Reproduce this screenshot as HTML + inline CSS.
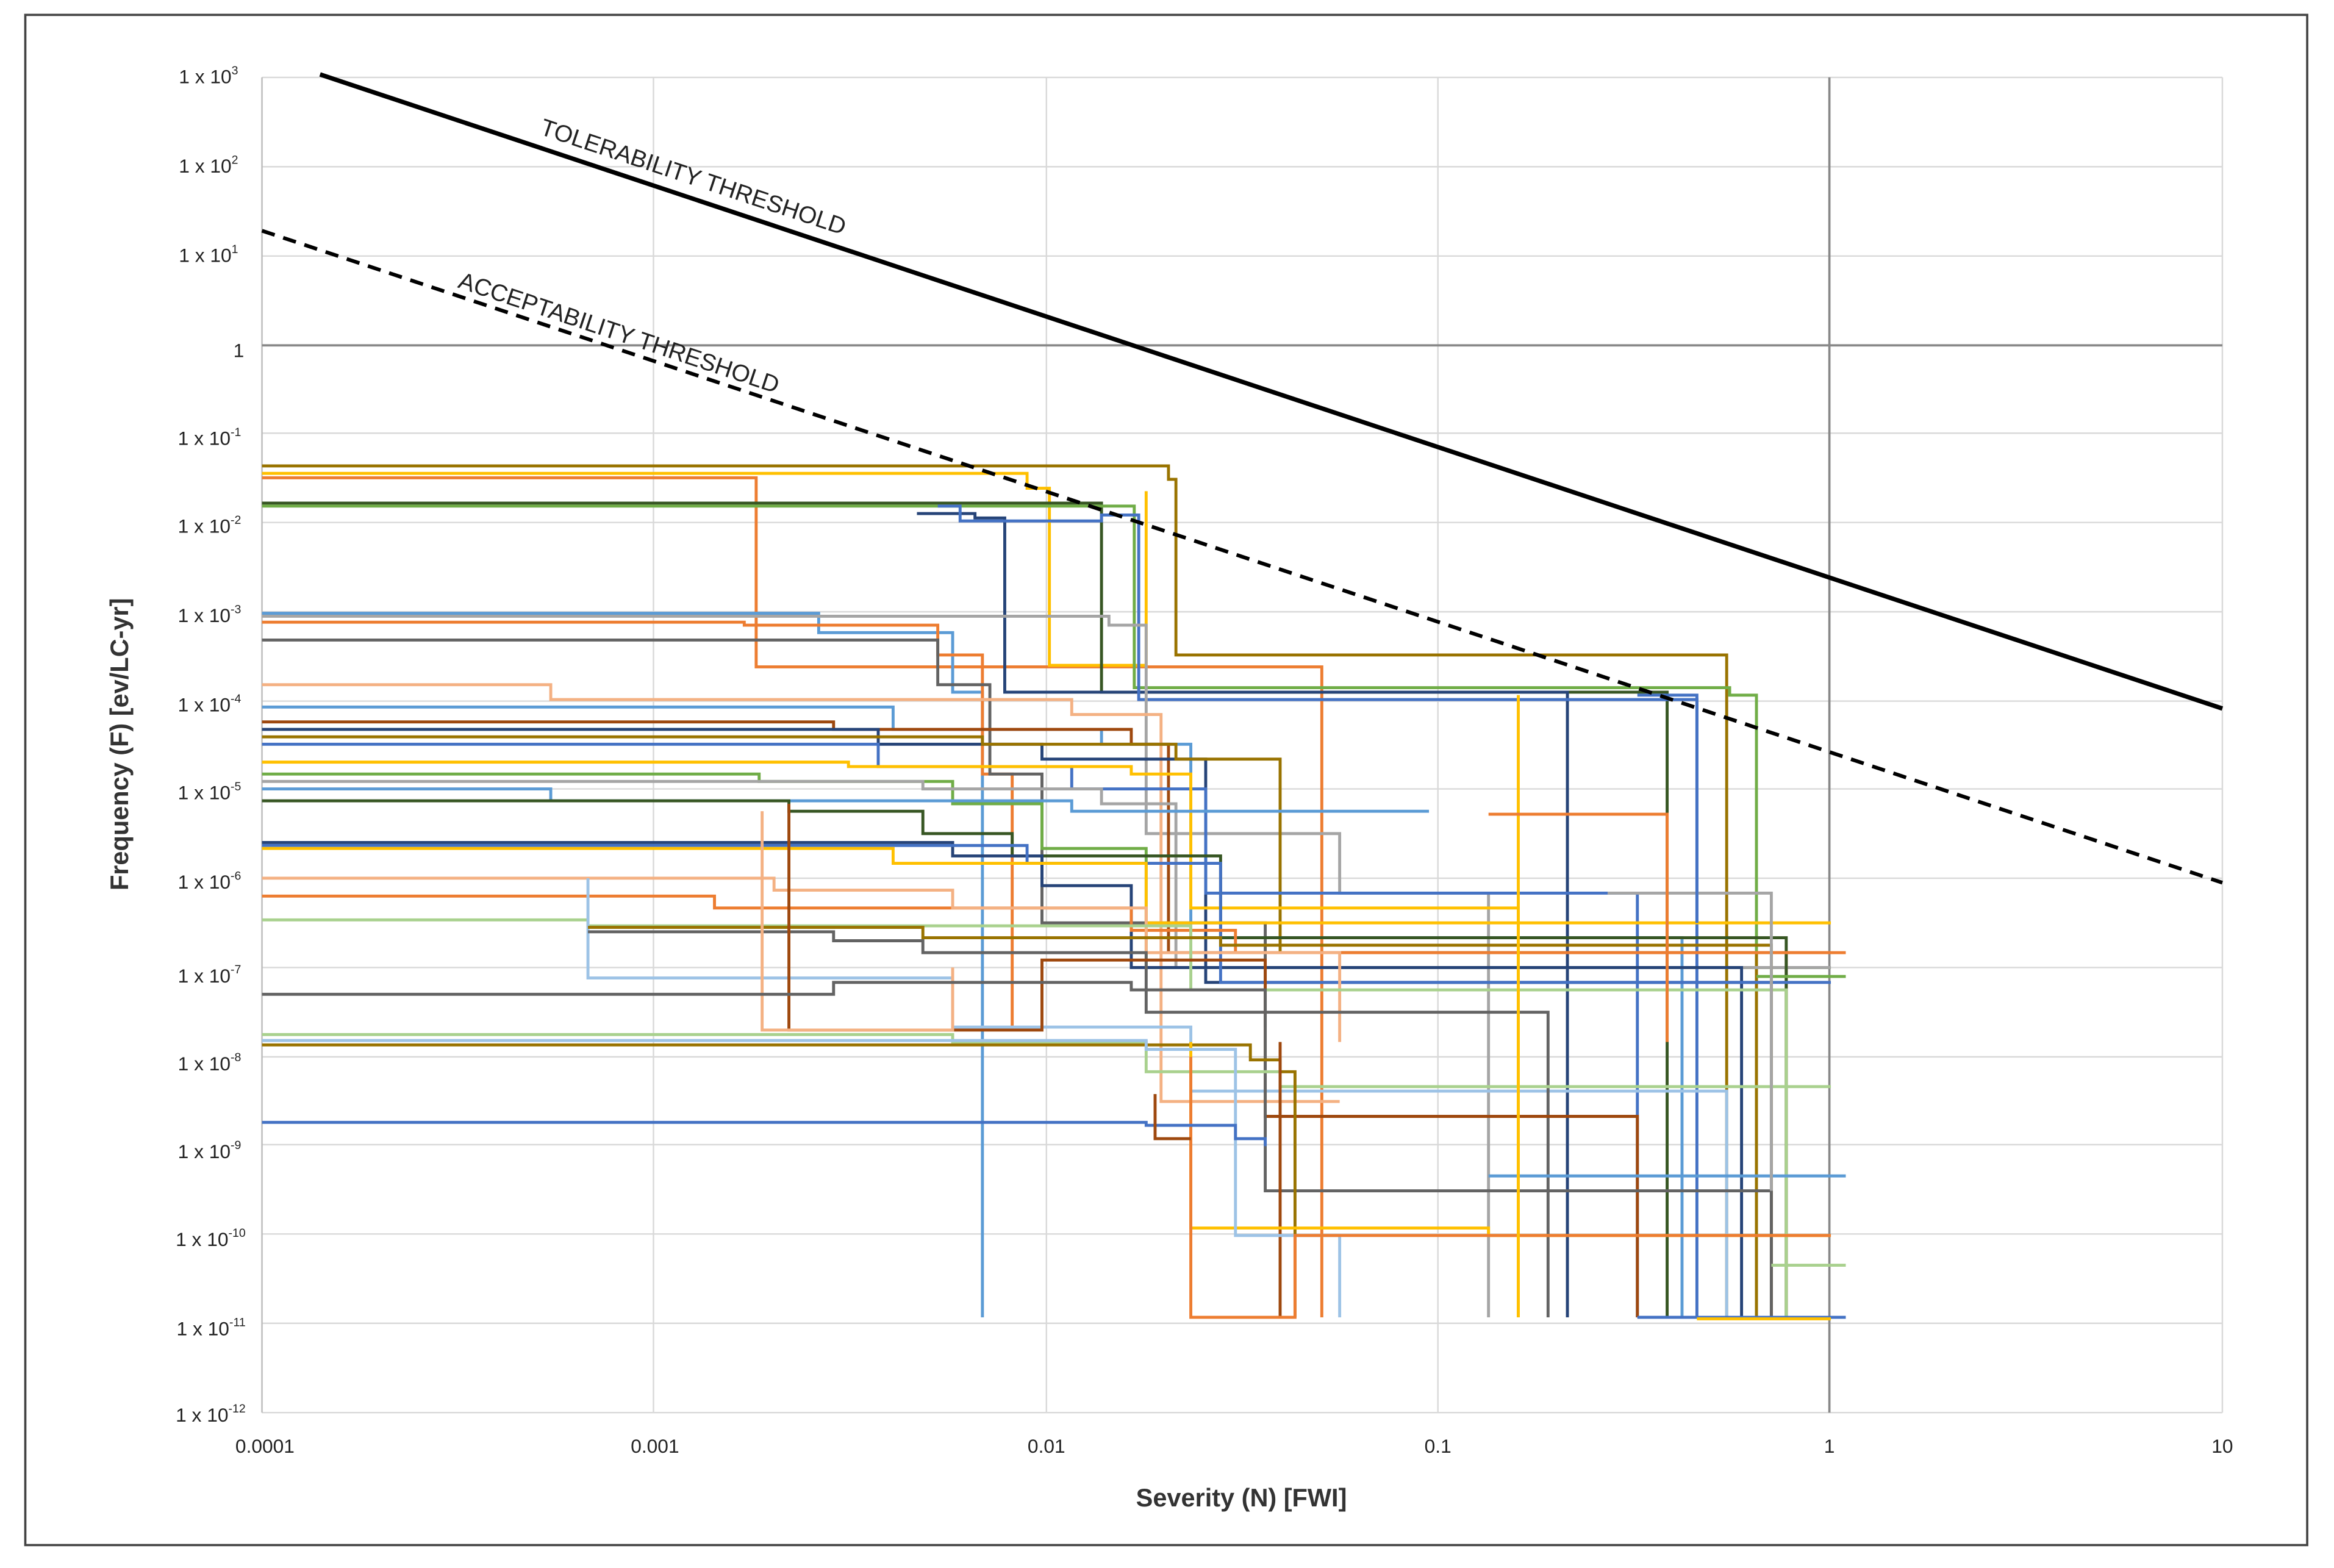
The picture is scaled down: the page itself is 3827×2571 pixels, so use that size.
<!DOCTYPE html>
<html><head><style>html,body{margin:0;padding:0;background:#fff}svg{display:block}</style></head><body>
<svg width="3827" height="2571" viewBox="0 0 1568 1053.4" preserveAspectRatio="none" xmlns="http://www.w3.org/2000/svg" font-family="Liberation Sans, sans-serif">
<rect x="0" y="0" width="1568" height="1054" fill="#fff"/>
<rect x="17" y="10" width="1533" height="1028" fill="none" stroke="#444" stroke-width="1.5"/>
<g stroke="#d9d9d9" stroke-width="1">
<line x1="439" y1="52" x2="439" y2="949"/><line x1="703" y1="52" x2="703" y2="949"/><line x1="966" y1="52" x2="966" y2="949"/><line x1="1493" y1="52" x2="1493" y2="949"/>
<line x1="176" y1="52" x2="1493" y2="52"/><line x1="176" y1="112" x2="1493" y2="112"/><line x1="176" y1="172" x2="1493" y2="172"/>
<line x1="176" y1="291" x2="1493" y2="291"/><line x1="176" y1="351" x2="1493" y2="351"/><line x1="176" y1="411" x2="1493" y2="411"/><line x1="176" y1="471" x2="1493" y2="471"/><line x1="176" y1="530" x2="1493" y2="530"/><line x1="176" y1="590" x2="1493" y2="590"/><line x1="176" y1="650" x2="1493" y2="650"/><line x1="176" y1="710" x2="1493" y2="710"/><line x1="176" y1="769" x2="1493" y2="769"/><line x1="176" y1="829" x2="1493" y2="829"/><line x1="176" y1="889" x2="1493" y2="889"/><line x1="176" y1="949" x2="1493" y2="949"/>
</g>
<line x1="176" y1="52" x2="176" y2="949" stroke="#bbb"/>
<line x1="176" y1="232" x2="1493" y2="232" stroke="#888" stroke-width="1.5"/>
<line x1="1229" y1="52" x2="1229" y2="949" stroke="#888" stroke-width="1.5"/>
<g fill="none" stroke-width="2">
<path stroke="#997300" d="M176 313H785V322H790V440H1160V485V885"/>
<path stroke="#ED7D31" d="M176 321H508V448H888V885"/>
<path stroke="#FFC000" d="M176 318H690V328H705V447H770V330"/>
<path stroke="#375623" d="M176 338H740V465H1120V885"/>
<path stroke="#70AD47" d="M176 340H762V462H1162V467H1180V885"/>
<path stroke="#264478" d="M616 345H655V348H675V465H1053V885"/>
<path stroke="#4472C4" d="M630 340H645V350H740V346H765V470H1140V885"/>
<path stroke="#5B9BD5" d="M176 412H550V425H640V465H660V885"/>
<path stroke="#ED7D31" d="M176 418H500V420H630V440H660V520H680V690"/>
<path stroke="#636363" d="M176 430H630V460H665V520H700V620H850V690"/>
<path stroke="#A5A5A5" d="M176 414H745V420H770V560H900V600H1000V885"/>
<path stroke="#F4B183" d="M176 460H370V470H720V480H780V740H900"/>
<path stroke="#5B9BD5" d="M176 475H600V490H740V500H800V630H1130V885"/>
<path stroke="#9E480E" d="M176 485H560V490H760V500H785V640H1200V885"/>
<path stroke="#264478" d="M176 490H590V500H700V510H810V660H1190V885"/>
<path stroke="#997300" d="M176 495H660V500H790V510H860V640H1180V885"/>
<path stroke="#4472C4" d="M176 500H590V515H720V530H810V600H1100V885"/>
<path stroke="#FFC000" d="M176 512H570V515H760V520H800V610H1020V885"/>
<path stroke="#70AD47" d="M176 520H510V525H640V540H700V570H770V650H1230"/>
<path stroke="#A5A5A5" d="M176 525H620V530H740V540H790V650H1230"/>
<path stroke="#5B9BD5" d="M176 530H370V538H720V545H960"/>
<path stroke="#375623" d="M176 538H530V545H620V560H680V575H820V630H1200V885"/>
<path stroke="#264478" d="M176 566H640V575H700V595H760V650H1170V885"/>
<path stroke="#4472C4" d="M176 568H690V580H820V660H1230"/>
<path stroke="#FFC000" d="M176 570H600V580H770V620H1230"/>
<path stroke="#ED7D31" d="M176 602H480V610H760V625H830V640H1230"/>
<path stroke="#F4B183" d="M176 590H520V598H640V610H770V640H900V700"/>
<path stroke="#A9D18E" d="M176 618H395V622H800V665H1200V885"/>
<path stroke="#9DC3E6" d="M395 590V657H640V690H800V733H1160V885"/>
<path stroke="#636363" d="M395 626H560V632H620V640H770V680H1040V885"/>
<path stroke="#997300" d="M395 623H620V630H820V635H1190V885"/>
<path stroke="#9E480E" d="M530 540V692H700V645H850V750H1100V885"/>
<path stroke="#F4B183" d="M512 545V692H640V650"/>
<path stroke="#636363" d="M176 668H560V660H760V665H850V800H1190V885"/>
<path stroke="#A9D18E" d="M176 695H640V700H770V720H860V730H1230"/>
<path stroke="#997300" d="M176 702H840V712H860V720H870V885"/>
<path stroke="#9E480E" d="M860 700V885"/>
<path stroke="#FFC000" d="M800 700V825H1000V830H1230"/>
<path stroke="#9DC3E6" d="M176 699H770V705H830V830H900V885"/>
<path stroke="#ED7D31" d="M800 710V885H870V830H1230"/>
<path stroke="#4472C4" d="M176 754H770V756H830V765H850V770"/>
<path stroke="#9E480E" d="M776 735V765H800"/>
<path stroke="#5B9BD5" d="M1000 790H1240"/>
<path stroke="#4472C4" d="M1100 885H1240"/>
<path stroke="#FFC000" d="M1140 886H1230"/>
<path stroke="#A9D18E" d="M1190 850H1240"/>
<path stroke="#ED7D31" d="M1180 640H1240"/>
<path stroke="#70AD47" d="M1180 656H1240"/>
<path stroke="#A5A5A5" d="M1080 600H1190V800"/>
<path stroke="#4472C4" d="M1100 467H1140V620"/>
<path stroke="#FFC000" d="M1020 467V885"/>
<path stroke="#ED7D31" d="M1000 547H1120V700"/>
</g>
<line x1="215" y1="50" x2="1493" y2="476" stroke="#000" stroke-width="3"/>
<line x1="176" y1="155" x2="1493" y2="593" stroke="#000" stroke-width="2.5" stroke-dasharray="9,6"/>
<text x="362" y="90" font-size="16" transform="rotate(18.4 362 90)" fill="#222">TOLERABILITY THRESHOLD</text>
<text x="307" y="193" font-size="16" transform="rotate(18.4 307 193)" fill="#222">ACCEPTABILITY THRESHOLD</text>
<g font-size="13" text-anchor="end" fill="#222">
<text x="160" y="56">1 x 10<tspan font-size="8" dy="-6">3</tspan></text>
<text x="160" y="116">1 x 10<tspan font-size="8" dy="-6">2</tspan></text>
<text x="160" y="176">1 x 10<tspan font-size="8" dy="-6">1</tspan></text>
<text x="164" y="240">1</text>
<text x="162" y="299">1 x 10<tspan font-size="8" dy="-6">-1</tspan></text>
<text x="162" y="358">1 x 10<tspan font-size="8" dy="-6">-2</tspan></text>
<text x="162" y="418">1 x 10<tspan font-size="8" dy="-6">-3</tspan></text>
<text x="162" y="478">1 x 10<tspan font-size="8" dy="-6">-4</tspan></text>
<text x="162" y="537">1 x 10<tspan font-size="8" dy="-6">-5</tspan></text>
<text x="162" y="597">1 x 10<tspan font-size="8" dy="-6">-6</tspan></text>
<text x="162" y="660">1 x 10<tspan font-size="8" dy="-6">-7</tspan></text>
<text x="162" y="719">1 x 10<tspan font-size="8" dy="-6">-8</tspan></text>
<text x="162" y="778">1 x 10<tspan font-size="8" dy="-6">-9</tspan></text>
<text x="165" y="837">1 x 10<tspan font-size="8" dy="-6">-10</tspan></text>
<text x="165" y="897">1 x 10<tspan font-size="8" dy="-6">-11</tspan></text>
<text x="165" y="955">1 x 10<tspan font-size="8" dy="-6">-12</tspan></text>
</g>
<g font-size="13" text-anchor="middle" fill="#222">
<text x="178" y="976">0.0001</text><text x="440" y="976">0.001</text><text x="703" y="976">0.01</text><text x="966" y="976">0.1</text><text x="1229" y="976">1</text><text x="1493" y="976">10</text>
</g>
<text x="834" y="1012" font-size="17" font-weight="bold" text-anchor="middle" fill="#333">Severity (N) [FWI]</text>
<text x="86" y="500" font-size="17" font-weight="bold" text-anchor="middle" fill="#333" transform="rotate(-90 86 500)">Frequency (F) [ev/LC-yr]</text>
</svg>
</body></html>
